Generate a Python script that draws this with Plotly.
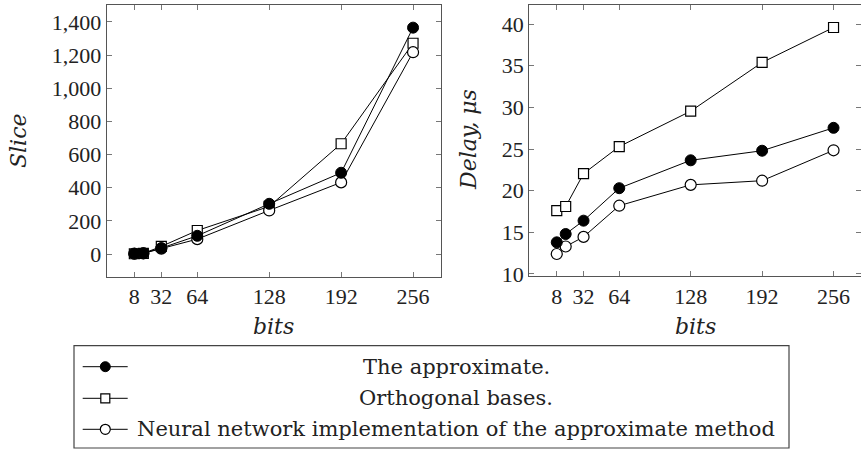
import plotly.graph_objects as go

# ---------------- data ----------------
bits = [8, 16, 32, 64, 128, 192, 256]
bit_ticks = [8, 32, 64, 128, 192, 256]

slice_approx = [3, 5, 36, 110, 303, 490, 1365]
slice_orth = [2, 4, 46, 142, 287, 665, 1271]
slice_nn = [2, 4, 33, 90, 263, 432, 1217]

delay_approx = [13.8, 14.8, 16.4, 20.3, 23.65, 24.8, 27.55]
delay_orth = [17.6, 18.1, 22.05, 25.3, 29.55, 35.4, 39.6]
delay_nn = [12.4, 13.3, 14.45, 18.2, 20.7, 21.2, 24.85]

legend_labels = ["The approximate.", "Orthogonal bases.",
                 "Neural network implementation of the approximate method"]

# ---------------- style ----------------
W, H = 861, 450
FONT = "Liberation Serif"
WIDE = "DejaVu Serif"
TXT = "#222222"
AX = "#555555"

styles = {
    "approx": dict(symbol="circle", size=11, color="black",
                   line=dict(color="black", width=1)),
    "orth": dict(symbol="square", size=10, color="white",
                 line=dict(color="black", width=1.2)),
    "nn": dict(symbol="circle", size=11, color="white",
               line=dict(color="black", width=1.2)),
}

fig = go.Figure()

def add_series(x, y, key, xa, ya):
    fig.add_trace(go.Scatter(x=x, y=y, mode="lines+markers",
                             line=dict(color="black", width=1),
                             marker=styles[key], xaxis=xa, yaxis=ya,
                             showlegend=False, hoverinfo="skip", cliponaxis=False))

for key, ys in (("orth", slice_orth), ("nn", slice_nn), ("approx", slice_approx)):
    add_series(bits, ys, key, "x", "y")
for key, ys in (("orth", delay_orth), ("nn", delay_nn), ("approx", delay_approx)):
    add_series(bits, ys, key, "x2", "y2")

def px(v):
    return v / W

def py(v):
    return 1 - v / H

common_axis = dict(showline=True, linecolor=AX, linewidth=1.2, mirror="ticks",
                   ticks="inside", ticklen=5, tickcolor="#777777", tickwidth=1,
                   showgrid=False, zeroline=False, automargin=False,
                   tickfont=dict(family=FONT, size=22, color=TXT))

# legend area (pixel coordinates of the legend frame)
LX0, LX1, LY0, LY1 = 74, 789, 345.7, 448

fig.update_layout(
    width=W, height=H, margin=dict(l=0, r=0, t=0, b=0, pad=0, autoexpand=False),
    paper_bgcolor="white", plot_bgcolor="rgba(0,0,0,0)", showlegend=False,
    xaxis=dict(domain=[px(106.7), px(440.7)], range=[-16.6, 280.6],
               tickvals=bit_ticks, anchor="y", **common_axis),
    yaxis=dict(domain=[py(276.7), py(5)], range=[-136.5, 1501.5],
               tickvals=list(range(0, 1401, 200)), tickformat=",d",
               anchor="x", **common_axis),
    xaxis2=dict(domain=[px(529.3), 1.0], range=[-16.6, 280.6],
                tickvals=bit_ticks, anchor="y2", **common_axis),
    yaxis2=dict(domain=[py(276.3), py(5)], range=[9.72, 42.3],
                tickvals=list(range(10, 41, 5)), anchor="x2", **common_axis),
    # helper axis for the legend symbols (pixel coordinates inside the legend frame)
    xaxis3=dict(domain=[px(LX0), px(LX1)], range=[LX0, LX1], visible=False,
                anchor="y3", fixedrange=True),
    yaxis3=dict(domain=[py(LY1), py(LY0)], range=[LY1, LY0], visible=False,
                anchor="x3", fixedrange=True),
)

# axis titles
title_font = dict(family=WIDE, size=22, color=TXT)
def note(text, x, y, angle=0, font=title_font):
    fig.add_annotation(text=text, x=px(x), y=py(y), xref="paper", yref="paper",
                       textangle=angle, showarrow=False, font=font,
                       xanchor="center", yanchor="middle")

note("<i>Slice</i>", 18, 141, -90)
note("<i>bits</i>", 273.7, 326)
note("<i>Delay, μs</i>", 468, 140, -90)
note("<i>bits</i>", 695, 326)

# legend frame
fig.add_shape(type="rect", xref="paper", yref="paper",
              x0=px(LX0), x1=px(LX1), y0=py(LY1), y1=py(LY0),
              line=dict(color="#444444", width=1.2), layer="above")

rows_y = [366.7, 398.3, 429.3]
for key, label, ry in zip(("approx", "orth", "nn"), legend_labels, rows_y):
    fig.add_trace(go.Scatter(x=[82.7, 105.3, 127.7], y=[ry, ry, ry],
                             mode="lines", line=dict(color="black", width=1),
                             xaxis="x3", yaxis="y3", showlegend=False, hoverinfo="skip"))
    m = dict(styles[key])
    m["size"] = m["size"] - 1
    fig.add_trace(go.Scatter(x=[105.3], y=[ry], mode="markers", marker=m,
                             xaxis="x3", yaxis="y3", showlegend=False, hoverinfo="skip"))
    note(label, 456, ry, font=dict(family=WIDE, size=21, color=TXT))

fig.write_html("out.html")
